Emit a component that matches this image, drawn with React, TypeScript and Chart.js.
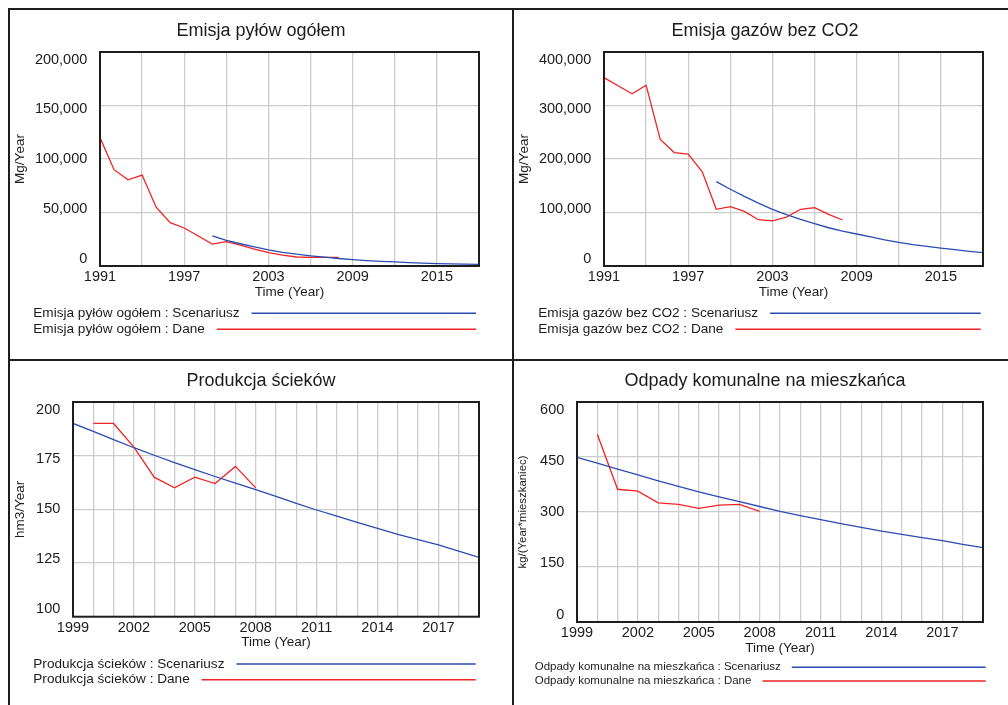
import React, { useEffect, useRef } from "react";
import { Chart, registerables } from "chart.js";

Chart.register(...registerables);

const FONT = '"Liberation Sans", Arial, Helvetica, sans-serif';
const TEXT = "#1c1c1c";
const BLUE = "#2a4cb2";
const RED = "#f02424";
const GRID = "#cdcdcd";
const FRAME = "#1e1e1e";

// ---------- Panel 1: Emisja pyłów ogółem ----------
const dustDataYears = [1991, 1992, 1993, 1994, 1995, 1996, 1997, 1998, 1999, 2000, 2001, 2002, 2003, 2004, 2005, 2006, 2007, 2008];
const dustDataValues = [120000, 90000, 80500, 85000, 55000, 40500, 35500, 28000, 20500, 22800, 19500, 15800, 12400, 10200, 8400, 8100, 8100, 8100];
const dustScenYears = [1999, 2000, 2001, 2002, 2003, 2004, 2005, 2006, 2007, 2008, 2009, 2010, 2011, 2012, 2013, 2014, 2015, 2016, 2017, 2018];
const dustScenValues = [28200, 24000, 20800, 17800, 15000, 12800, 11000, 9500, 8200, 7000, 6000, 5100, 4400, 3800, 3200, 2700, 2300, 2000, 1700, 1500];
const dustYTicks = [0, 50000, 100000, 150000, 200000];

// ---------- Panel 2: Emisja gazów bez CO2 ----------
const gasDataYears = [1991, 1992, 1993, 1994, 1995, 1996, 1997, 1998, 1999, 2000, 2001, 2002, 2003, 2004, 2005, 2006, 2007, 2008];
const gasDataValues = [352000, 337000, 322000, 338000, 237000, 212000, 209000, 176000, 106000, 111000, 102000, 86500, 84500, 91500, 106000, 109000, 96500, 86000];
const gasScenYears = [1999, 2000, 2001, 2002, 2003, 2004, 2005, 2006, 2007, 2008, 2009, 2010, 2011, 2012, 2013, 2014, 2015, 2016, 2017, 2018];
const gasScenValues = [157600, 143500, 130000, 117500, 106000, 96000, 87000, 79000, 71500, 65000, 59800, 54500, 49000, 44200, 40000, 36700, 33600, 30500, 27500, 25000];
const gasYTicks = [0, 100000, 200000, 300000, 400000];

// shared x axis for top row
const topXGrid = [1991, 1994, 1997, 2000, 2003, 2006, 2009, 2012, 2015, 2018];
const topXLabels = [1991, 1997, 2003, 2009, 2015];

// ---------- Panel 3: Produkcja ścieków ----------
const sewDataYears = [2000, 2001, 2002, 2003, 2004, 2005, 2006, 2007, 2008];
const sewDataValues = [190, 190, 179, 165, 160, 165, 162, 170, 160];
const sewScenYears = [1999, 2000, 2001, 2002, 2003, 2004, 2005, 2006, 2007, 2008, 2009, 2010, 2011, 2012, 2013, 2014, 2015, 2016, 2017, 2018, 2019];
const sewScenValues = [190, 186.3, 182.5, 178.7, 175.2, 171.8, 168.5, 165.3, 162.2, 159.2, 156.0, 152.8, 149.7, 146.8, 143.9, 141.1, 138.4, 135.9, 133.4, 130.5, 127.6];
const sewYTicks = [100, 125, 150, 175, 200];

// ---------- Panel 4: Odpady komunalne na mieszkańca ----------
const wasteDataYears = [2000, 2001, 2002, 2003, 2004, 2005, 2006, 2007, 2008];
const wasteDataValues = [512, 362, 357, 325, 321, 310, 319, 321, 302];
const wasteScenYears = [1999, 2000, 2001, 2002, 2003, 2004, 2005, 2006, 2007, 2008, 2009, 2010, 2011, 2012, 2013, 2014, 2015, 2016, 2017, 2018, 2019];
const wasteScenValues = [449, 433, 417, 401, 385, 370, 355, 341, 328, 315, 302, 290, 279, 268, 258, 248, 239, 230, 222, 212, 203];
const wasteYTicks = [0, 150, 300, 450, 600];

// shared x axis for bottom row
const bottomXGrid = [1999, 2000, 2001, 2002, 2003, 2004, 2005, 2006, 2007, 2008, 2009, 2010, 2011, 2012, 2013, 2014, 2015, 2016, 2017, 2018, 2019];
const bottomXLabels = [1999, 2002, 2005, 2008, 2011, 2014, 2017];

type PanelCfg = {
  left: number;
  top: number;
  width: number;
  height: number;
  plot: [number, number, number, number];
  title: string;
  yTitle: string;
  yTitleSize: number;
  yTitleX: number;
  xMin: number;
  xMax: number;
  xGrid: number[];
  xLabels: number[];
  yMin: number;
  yMax: number;
  yTicks: number[];
  scenYears: number[];
  scenValues: number[];
  dataYears: number[];
  dataValues: number[];
  scenLabel: string;
  dataLabel: string;
  legendX: number;
  legendSize: number;
  legendRows: [number, number];
  legendEnd: number;
  legendGap: number;
};

const panels: PanelCfg[] = [
  {
    left: 0, top: 0, width: 504, height: 350,
    plot: [100, 52, 479, 266],
    title: "Emisja pyłów ogółem",
    yTitle: "Mg/Year", yTitleSize: 13.5, yTitleX: 20,
    xMin: 1991, xMax: 2018, xGrid: topXGrid, xLabels: topXLabels,
    yMin: 0, yMax: 200000, yTicks: dustYTicks,
    scenYears: dustScenYears, scenValues: dustScenValues,
    dataYears: dustDataYears, dataValues: dustDataValues,
    scenLabel: "Emisja pyłów ogółem : Scenariusz",
    dataLabel: "Emisja pyłów ogółem : Dane",
    legendX: 33.3, legendSize: 13.6, legendRows: [47.3, 63.3], legendEnd: 476, legendGap: 12,
  },
  {
    left: 504, top: 0, width: 504, height: 350,
    plot: [100, 52, 479, 266],
    title: "Emisja gazów bez CO2",
    yTitle: "Mg/Year", yTitleSize: 13.5, yTitleX: 20,
    xMin: 1991, xMax: 2018, xGrid: topXGrid, xLabels: topXLabels,
    yMin: 0, yMax: 400000, yTicks: gasYTicks,
    scenYears: gasScenYears, scenValues: gasScenValues,
    dataYears: gasDataYears, dataValues: gasDataValues,
    scenLabel: "Emisja gazów bez CO2 : Scenariusz",
    dataLabel: "Emisja gazów bez CO2 : Dane",
    legendX: 34.3, legendSize: 13.6, legendRows: [47.3, 63.3], legendEnd: 476.7, legendGap: 12,
  },
  {
    left: 0, top: 350, width: 504, height: 355,
    plot: [73, 52, 479, 266.7],
    title: "Produkcja ścieków",
    yTitle: "hm3/Year", yTitleSize: 13.5, yTitleX: 20,
    xMin: 1999, xMax: 2019, xGrid: bottomXGrid, xLabels: bottomXLabels,
    yMin: 100, yMax: 200, yTicks: sewYTicks,
    scenYears: sewScenYears, scenValues: sewScenValues,
    dataYears: sewDataYears, dataValues: sewDataValues,
    scenLabel: "Produkcja ścieków : Scenariusz",
    dataLabel: "Produkcja ścieków : Dane",
    legendX: 33.3, legendSize: 13.6, legendRows: [47.3, 63], legendEnd: 475.7, legendGap: 12,
  },
  {
    left: 504, top: 350, width: 504, height: 355,
    plot: [73, 52, 479, 272],
    title: "Odpady komunalne na mieszkańca",
    yTitle: "kg/(Year*mieszkaniec)", yTitleSize: 11.4, yTitleX: 19.3,
    xMin: 1999, xMax: 2019, xGrid: bottomXGrid, xLabels: bottomXLabels,
    yMin: 0, yMax: 600, yTicks: wasteYTicks,
    scenYears: wasteScenYears, scenValues: wasteScenValues,
    dataYears: wasteDataYears, dataValues: wasteDataValues,
    scenLabel: "Odpady komunalne na mieszkańca : Scenariusz",
    dataLabel: "Odpady komunalne na mieszkańca : Dane",
    legendX: 30.7, legendSize: 11.5, legendRows: [45.3, 59], legendEnd: 481.7, legendGap: 11,
  },
];

function fmt(v: number) {
  return v.toLocaleString("en-US");
}

function makeTextPlugin(cfg: PanelCfg) {
  return {
    id: "panelText",
    afterDraw(chart: any) {
      const { ctx, chartArea: a, scales } = chart;
      const xs = scales.x;
      const ys = scales.y;
      ctx.save();
      // plot frame
      ctx.strokeStyle = FRAME;
      ctx.lineWidth = 2;
      ctx.strokeRect(a.left, a.top, a.right - a.left, a.bottom - a.top);

      ctx.fillStyle = TEXT;
      ctx.textBaseline = "middle";
      // title
      ctx.font = `18px ${FONT}`;
      ctx.textAlign = "center";
      ctx.fillText(cfg.title, 261, 31);

      // y tick labels
      const mid = (a.top + a.bottom) / 2;
      const h = a.bottom - a.top;
      const k = (h - 15) / h;
      ctx.font = `14.5px ${FONT}`;
      ctx.textAlign = "right";
      cfg.yTicks.forEach((v) => {
        const y = mid + (ys.getPixelForValue(v) - mid) * k;
        ctx.fillText(fmt(v), a.left - 12.7, y);
      });

      // x tick labels
      ctx.textAlign = "center";
      cfg.xLabels.forEach((v) => {
        ctx.fillText(String(v), xs.getPixelForValue(v), a.bottom + 11);
      });

      // x title
      ctx.font = `13.5px ${FONT}`;
      ctx.fillText("Time (Year)", (a.left + a.right) / 2, a.bottom + 26);

      // y title
      ctx.save();
      ctx.translate(cfg.yTitleX, mid);
      ctx.rotate(-Math.PI / 2);
      ctx.font = `${cfg.yTitleSize}px ${FONT}`;
      ctx.textAlign = "center";
      ctx.fillText(cfg.yTitle, 0, 0);
      ctx.restore();

      // legend
      ctx.font = `${cfg.legendSize}px ${FONT}`;
      ctx.textAlign = "left";
      const rows: [string, string][] = [
        [cfg.scenLabel, BLUE],
        [cfg.dataLabel, RED],
      ];
      rows.forEach(([label, color], i) => {
        const y = a.bottom + cfg.legendRows[i];
        ctx.fillStyle = TEXT;
        ctx.fillText(label, cfg.legendX, y);
        const w = ctx.measureText(label).width;
        ctx.strokeStyle = color;
        ctx.lineWidth = 1.5;
        ctx.beginPath();
        ctx.moveTo(cfg.legendX + w + cfg.legendGap, y);
        ctx.lineTo(cfg.legendEnd, y);
        ctx.stroke();
      });
      ctx.restore();
    },
  };
}

function Panel({ cfg }: { cfg: PanelCfg }) {
  const ref = useRef<HTMLCanvasElement>(null);
  useEffect(() => {
    const c = ref.current;
    if (!c) return;
    const [pl, pt, pr, pb] = cfg.plot;
    const chart = new Chart(c, {
      type: "line",
      data: {
        datasets: [
          {
            label: cfg.scenLabel,
            data: cfg.scenYears.map((x, i) => ({ x, y: cfg.scenValues[i] })),
            borderColor: BLUE,
            borderWidth: 1.3,
            pointRadius: 0,
            tension: 0,
            fill: false,
          },
          {
            label: cfg.dataLabel,
            data: cfg.dataYears.map((x, i) => ({ x, y: cfg.dataValues[i] })),
            borderColor: RED,
            borderWidth: 1.3,
            pointRadius: 0,
            tension: 0,
            fill: false,
          },
        ],
      },
      options: {
        responsive: false,
        animation: false,
        devicePixelRatio: 1,
        events: [],
        layout: {
          padding: { left: pl, top: pt, right: cfg.width - pr, bottom: cfg.height - pb },
        },
        plugins: {
          legend: { display: false },
          title: { display: false },
          tooltip: { enabled: false },
        },
        scales: {
          x: {
            type: "linear",
            min: cfg.xMin,
            max: cfg.xMax,
            ticks: { display: false },
            grid: { color: GRID, lineWidth: 1.3, drawTicks: false },
            border: { display: false },
            afterBuildTicks: (s: any) => {
              s.ticks = cfg.xGrid.map((v) => ({ value: v }));
            },
            afterFit: (s: any) => {
              s.height = 0;
            },
          },
          y: {
            type: "linear",
            min: cfg.yMin,
            max: cfg.yMax,
            ticks: { display: false },
            grid: { color: GRID, lineWidth: 1.3, drawTicks: false },
            border: { display: false },
            afterBuildTicks: (s: any) => {
              s.ticks = cfg.yTicks.map((v) => ({ value: v }));
            },
            afterFit: (s: any) => {
              s.width = 0;
            },
          },
        },
      } as any,
      plugins: [makeTextPlugin(cfg)],
    });
    return () => chart.destroy();
  }, [cfg]);
  return (
    <canvas
      ref={ref}
      width={cfg.width}
      height={cfg.height}
      style={{ position: "absolute", left: cfg.left, top: cfg.top, width: cfg.width, height: cfg.height }}
    />
  );
}

export default function App() {
  const line = (style: React.CSSProperties) => (
    <div style={{ position: "absolute", background: FRAME, zIndex: 2, ...style }} />
  );
  return (
    <div style={{ position: "fixed", left: 0, top: 0, width: 1008, height: 705, background: "#fff", overflow: "hidden" }}>
      {panels.map((p, i) => (
        <Panel key={i} cfg={p} />
      ))}
      {line({ left: 8, top: 8, width: 1000, height: 2 })}
      {line({ left: 8, top: 8, width: 2, height: 697 })}
      {line({ left: 512, top: 8, width: 2, height: 697 })}
      {line({ left: 8, top: 359, width: 1000, height: 2 })}
    </div>
  );
}
